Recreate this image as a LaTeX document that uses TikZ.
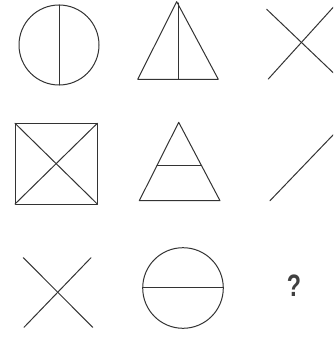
\documentclass[tikz,border=0pt]{standalone}
\usepackage{fontspec}
\setmainfont{Liberation Sans}
\begin{document}
\begin{tikzpicture}[x=1pt,y=-1pt,
  fig/.style={draw=black!80,line width=1pt,line cap=round,line join=round},
  qmark/.style={text=black!75,inner sep=0pt}]
\useasboundingbox (0,0) rectangle (333,337);
\clip (0,0) rectangle (333,337);
% Row 1
\draw[fig] (59,45) circle[radius=40];
\draw[fig] (59.3,5) -- (59.3,85);
\coordinate (t1a) at (176.7,1.7);
\coordinate (t1l) at (137.7,79.3);
\coordinate (t1r) at (218.3,79.3);
\draw[fig] (t1a) -- (t1l) -- (t1r) -- cycle;
\draw[fig] (178.3,3) -- (178.3,79.3);
\draw[fig] (266.7,9.3) -- (338,77.3);
\draw[fig] (268.3,79) -- (338,2);
% Row 2
\draw[fig] (15,123.3) rectangle (97.3,204);
\draw[fig] (15,123.3) -- (97.3,204);
\draw[fig] (15,204) -- (97.3,123.3);
\coordinate (t2a) at (178.7,122.3);
\coordinate (t2l) at (139.3,200.7);
\coordinate (t2r) at (220,200.7);
\draw[fig] (t2a) -- (t2l) -- (t2r) -- cycle;
\draw[fig] (157,165.7) -- (201.5,165.7);
\draw[fig] (270,200.7) -- (338,129.8);
% Row 3
\draw[fig] (23.3,257.7) -- (92.7,327.3);
\draw[fig] (24,327.3) -- (91,257.7);
\draw[fig] (183,288) circle[radius=40.3];
\draw[fig] (142.7,287.7) -- (223.3,287.7);
\node[qmark] (q) at (294,285.5) {\scalebox{0.75}[1]{\fontsize{31}{34}\selectfont\bfseries ?}};
\end{tikzpicture}
\end{document}
